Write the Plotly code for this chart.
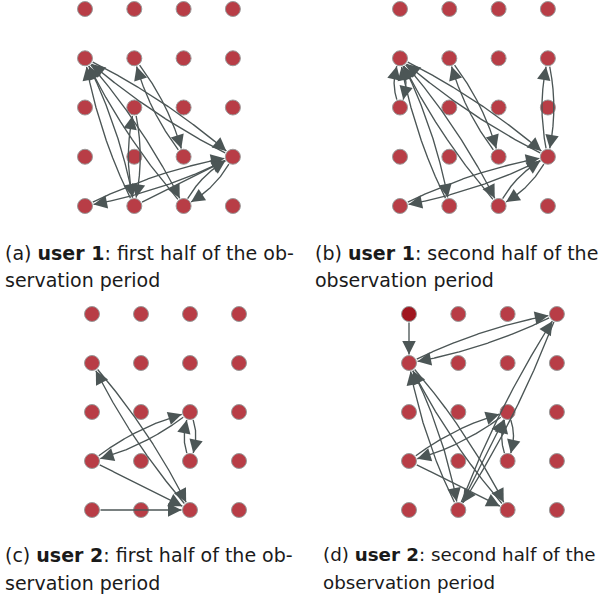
import numpy as np
import plotly.graph_objects as go

W, H = 603, 600
N_COLS, N_ROWS = 4, 5

# directed transitions per panel: (src_col, src_row, dst_col, dst_row)
edges_a = [
    (0, 1, 3, 3), (3, 3, 0, 1),
    (1, 1, 2, 3), (2, 3, 1, 1),
    (0, 1, 1, 4), (1, 4, 0, 1),
    (0, 1, 2, 4), (2, 4, 0, 1),
    (1, 2, 1, 4), (1, 4, 1, 2),
    (0, 4, 3, 3), (3, 3, 0, 4),
    (1, 4, 3, 3),
    (2, 4, 3, 3), (3, 3, 2, 4),
]
edges_b = [
    (0, 1, 0, 2), (0, 2, 0, 1),
    (0, 1, 3, 3), (3, 3, 0, 1),
    (1, 1, 2, 3), (2, 3, 1, 1),
    (0, 1, 1, 4), (1, 4, 0, 1),
    (0, 1, 2, 4), (2, 4, 0, 1),
    (3, 1, 3, 3), (3, 3, 3, 1),
    (0, 4, 3, 3), (3, 3, 0, 4),
    (2, 4, 3, 3), (3, 3, 2, 4),
]
edges_c = [
    (0, 4, 2, 4),
    (0, 3, 2, 4),
    (0, 3, 2, 2), (2, 2, 0, 3),
    (2, 2, 2, 3), (2, 3, 2, 2),
    (0, 1, 2, 4), (2, 4, 0, 1),
]
edges_d = [
    (0, 0, 0, 1),
    (0, 1, 3, 0), (3, 0, 0, 1),
    (0, 1, 1, 4), (1, 4, 0, 1),
    (0, 1, 2, 4), (2, 4, 0, 1),
    (0, 3, 2, 2), (2, 2, 0, 3),
    (0, 3, 2, 4),
    (2, 2, 2, 3), (2, 3, 2, 2),
    (1, 4, 3, 0), (3, 0, 1, 4),
    (1, 4, 2, 2),
]
highlight_d = [(0, 0)]

captions = {
    "a": ("(a) <b>user 1</b>: first half of the ob-", "servation period"),
    "b": ("(b) <b>user 1</b>: second half of the", "observation period"),
    "c": ("(c) <b>user 2</b>: first half of the ob-", "servation period"),
    "d": ("(d) <b>user 2</b>: second half of the", "observation period"),
}

# layout geometry (pixels): col0 x, col spacing, row0 y, row spacing
GEOM = {
    "a": (85, 49.3, 9, 49.25),
    "b": (400, 49.3, 9, 49.25),
    "c": (92, 49.0, 314, 49.0),
    "d": (409, 49.3, 314, 49.0),
}
CAP_POS = {  # x of text start, y centres of the two lines, font size
    "a": (3, 253, 280, 19),
    "b": (313, 253, 280, 19),
    "c": (3, 554.5, 582.5, 19),
    "d": (321, 554.5, 582.5, 18.3),
}

NODE_COLOR = "#b83d46"
NODE_DARK = "#a0161f"
NODE_LINE = "#9a9a9a"
EDGE_COLOR = "#4c5656"
NODE_R_PX = 7.5
CURVE_H = 0.24

fig = go.Figure()
panels = [("a", edges_a, []), ("b", edges_b, []), ("c", edges_c, []), ("d", edges_d, highlight_d)]

for i, (key, edges, hl) in enumerate(panels):
    sid = "" if i == 0 else str(i + 1)
    xref, yref = "x" + sid, "y" + sid
    c0, sx, r0, sy = GEOM[key]

    # nodes (drawn first, edges on top)
    nx, ny, ncol = [], [], []
    for r_ in range(N_ROWS):
        for c_ in range(N_COLS):
            nx.append(c_)
            ny.append(r_)
            ncol.append(NODE_DARK if (c_, r_) in hl else NODE_COLOR)
    fig.add_trace(go.Scatter(
        x=nx, y=ny, mode="markers", xaxis=xref, yaxis=yref,
        marker=dict(size=15, color=ncol, line=dict(color=NODE_LINE, width=1)),
        cliponaxis=False, hoverinfo="skip", showlegend=False,
    ))

    eset = set(edges)
    lx, ly = [], []
    for (sc, sr, dc, dr) in edges:
        p0 = np.array([sc, sr], float)
        p2 = np.array([dc, dr], float)
        d = p2 - p0
        u = d / np.hypot(*d)
        perp = np.array([u[1], -u[0]])
        h = CURVE_H if (dc, dr, sc, sr) in eset else 0.0
        p1 = (p0 + p2) / 2 + perp * h
        t = np.linspace(0, 1, 600)[:, None]
        pts = (1 - t) ** 2 * p0 + 2 * (1 - t) * t * p1 + t ** 2 * p2
        r = (NODE_R_PX + 1.0) / sx
        ds = np.hypot(*(pts - p0).T)
        de = np.hypot(*(pts - p2).T)
        seg = pts[(ds >= r) & (de >= r)]
        lx += list(seg[:, 0]) + [None]
        ly += list(seg[:, 1]) + [None]
        tip = seg[-1]
        dt = np.hypot(*(seg - tip).T)
        idx = np.where(dt >= 0.22)[0]
        tail = seg[idx[-1]] if len(idx) else seg[0]
        fig.add_annotation(
            x=tip[0], y=tip[1], ax=tail[0], ay=tail[1],
            xref=xref, yref=yref, axref=xref, ayref=yref,
            text="", showarrow=True, arrowhead=2, arrowsize=2.0,
            arrowwidth=1.35, arrowcolor=EDGE_COLOR,
        )
    fig.add_trace(go.Scatter(
        x=lx, y=ly, mode="lines", xaxis=xref, yaxis=yref,
        line=dict(color=EDGE_COLOR, width=1.35), hoverinfo="skip",
        cliponaxis=False, showlegend=False,
    ))

    # axes
    x_lo = (c0 - 0.5 * sx) / W
    x_hi = (c0 + 3.5 * sx) / W
    top = r0 - 0.15 * sy
    bot = r0 + 4.15 * sy
    fig.update_layout(**{
        "xaxis" + sid: dict(domain=[x_lo, x_hi], range=[-0.5, 3.5], visible=False, fixedrange=True),
        "yaxis" + sid: dict(domain=[1 - bot / H, 1 - top / H], range=[4.15, -0.15], visible=False, fixedrange=True),
    })
    # captions
    cx, y1, y2, fs = CAP_POS[key]
    for txt, yy in zip(captions[key], (y1, y2)):
        fig.add_annotation(
            x=cx / W, y=1 - yy / H, xref="paper", yref="paper",
            xanchor="left", yanchor="middle", showarrow=False, text=txt,
            font=dict(family="DejaVu Sans", size=fs, color="#1a1a1a"),
        )

fig.update_layout(
    width=W, height=H, margin=dict(l=0, r=0, t=0, b=0),
    paper_bgcolor="white", plot_bgcolor="white", showlegend=False,
)
fig.write_html("out.html", config={"displayModeBar": False},
               post_script="document.body.style.margin='0';")
